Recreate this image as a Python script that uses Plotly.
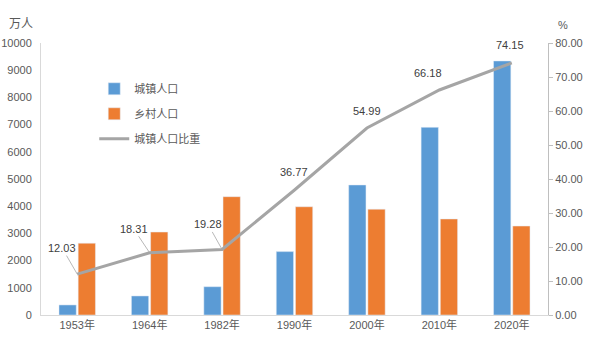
import plotly.graph_objects as go

years = ["1953年", "1964年", "1982年", "1990年", "2000年", "2010年", "2020年"]
urban = [370, 700, 1040, 2330, 4780, 6900, 9340]
rural = [2640, 3050, 4350, 3980, 3890, 3530, 3270]
ratio = [12.03, 18.31, 19.28, 36.77, 54.99, 66.18, 74.15]
ratio_labels = ["12.03", "18.31", "19.28", "36.77", "54.99", "66.18", "74.15"]
left_ticks = list(range(0, 10001, 1000))
left_ticktext = [str(v) for v in left_ticks]
right_ticks = [0, 10, 20, 30, 40, 50, 60, 70, 80]

FONT = "Liberation Sans, Noto Sans CJK SC, sans-serif"
GREY = "#595959"

fig = go.Figure()
fig.add_trace(go.Bar(x=years, y=urban, name="城镇人口", marker_color="#5b9bd5",
                     legendgroup="a"))
fig.add_trace(go.Bar(x=years, y=rural, name="乡村人口", marker_color="#ed7d31",
                     legendgroup="b"))
fig.add_trace(go.Scatter(x=years, y=ratio, name="城镇人口比重", yaxis="y2",
                         mode="lines", line=dict(color="#a5a5a5", width=3),
                         legendgroup="c"))

# data labels
leader = {0: (-15, -26), 1: (-16, -24), 2: (-14, -25)}
shifts = {3: (-1, 18), 4: (0, 17), 5: (-11, 17), 6: (-2, 18)}
for i, (yr, v, t) in enumerate(zip(years, ratio, ratio_labels)):
    if i in leader:
        ax, ay = leader[i]
        fig.add_annotation(x=yr, y=v, yref="y2", text=t, showarrow=True,
                           arrowhead=0, arrowwidth=0.8, arrowcolor="#a6a6a6",
                           ax=ax, ay=ay, font=dict(size=11, color="#404040", family=FONT))
    else:
        xs, ys = shifts[i]
        fig.add_annotation(x=yr, y=v, yref="y2", text=t, showarrow=False,
                           xshift=xs, yshift=ys,
                           font=dict(size=11, color="#404040", family=FONT))

fig.add_annotation(xref="paper", yref="paper", x=-0.04, y=1.035, text="万人",
                   showarrow=False, xanchor="center", yanchor="bottom",
                   font=dict(size=12, color=GREY, family=FONT))
fig.add_annotation(xref="paper", yref="paper", x=1.03, y=1.035, text="%",
                   showarrow=False, xanchor="center", yanchor="bottom",
                   font=dict(size=11, color=GREY, family=FONT))

fig.update_layout(
    width=592, height=344,
    margin=dict(l=41, r=44, t=43, b=29),
    paper_bgcolor="white", plot_bgcolor="white",
    barmode="group", bargap=0.47, bargroupgap=0.1,
    font=dict(family=FONT, size=11, color=GREY),
    showlegend=True,
    legend=dict(x=0.105, y=0.885, xanchor="left", yanchor="top",
                bgcolor="rgba(0,0,0,0)", traceorder="grouped",
                tracegroupgap=6, font=dict(size=11, color=GREY, family=FONT)),
    xaxis=dict(showgrid=False, showline=True, linecolor="#d9d9d9", linewidth=1,
               ticks="", tickfont=dict(size=11, color=GREY), automargin=False),
    yaxis=dict(range=[0, 10000], tickvals=left_ticks, ticktext=left_ticktext,
               showgrid=False, showline=True, linecolor="#d9d9d9", linewidth=1,
               ticks="", zeroline=False, ticklabelstandoff=6, automargin=False,
               tickfont=dict(size=11, color=GREY)),
    yaxis2=dict(range=[0, 80], tickvals=right_ticks, tickformat=".2f",
                overlaying="y", side="right", showgrid=False, showline=True,
                linecolor="#bfbfbf", linewidth=1, ticks="outside", ticklen=4,
                tickcolor="#bfbfbf", zeroline=False, automargin=False,
                tickfont=dict(size=11, color=GREY)),
)

fig.write_html("out.html")
